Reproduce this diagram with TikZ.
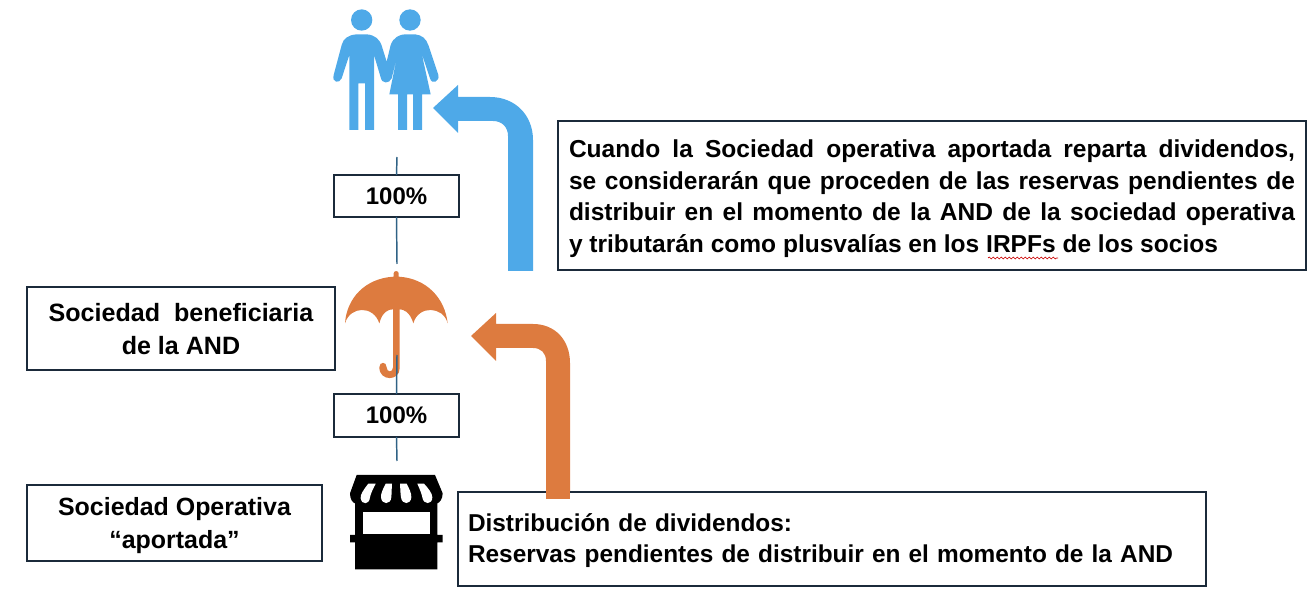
\documentclass[tikz,border=0pt]{standalone}
\usepackage{fontspec}
\setmainfont{Liberation Sans}
\usetikzlibrary{decorations.pathmorphing}
\definecolor{boxline}{HTML}{1B2A3A}
\definecolor{connline}{HTML}{2F6285}
\definecolor{bluefig}{HTML}{4EA9E8}
\definecolor{orangefig}{HTML}{DD7B3F}
\tikzset{
  x=0.75pt,y=-0.75pt,
  tbox/.style={draw=boxline,line width=1.4pt,fill=white,inner sep=0pt,outer sep=0pt,font=\fontsize{18}{24.4}\selectfont\bfseries,text=black},
  conn/.style={draw=connline,line width=1.1pt},
  bluefill/.style={fill=bluefig,draw=none},
  orangefill/.style={fill=orangefig,draw=none},
  blackfill/.style={fill=black,draw=none},
  icon/.style={x=0.25pt,y=-0.25pt},
}
\begin{document}
\begin{tikzpicture}
\useasboundingbox (0,0) rectangle (1314,605);
% people
\begin{scope}[shift={(320,0)},icon]
\fill[bluefill] (125,60) circle (32);
\fill[bluefill] (270,60) circle (32);
\fill[bluefill] (110,103) -- (140,103) .. controls (165,105) and (180,118) .. (186,140)
 -- (200,185) -- (212,135) .. controls (220,112) and (240,103) .. (255,103) -- (285,103)
 .. controls (305,105) and (318,115) .. (325,135)
 -- (355,225) .. controls (360,245) and (335,255) .. (330,235)
 -- (305,160) -- (332,283) -- (306,283) -- (306,390) -- (279,390) -- (279,283) -- (261,283) -- (261,390) -- (234,390) -- (234,283) -- (208,283)
 -- (232,165) -- (215,235) .. controls (208,252) and (185,252) .. (182,232)
 -- (162,165) -- (162,390) -- (135,390) -- (135,250) -- (115,250) -- (115,390) -- (88,390) -- (88,165)
 -- (65,235) .. controls (58,252) and (35,248) .. (41,225)
 -- (65,135) .. controls (70,115) and (85,105) .. (110,103) -- cycle;
\end{scope}
% blue arrow
\fill[bluefill] (508,271) -- (533,271) -- (533,140) .. controls (533,115) and (515,97) .. (490,97)
 -- (458,97) -- (458,85) -- (433,108) -- (458,133) -- (458,121) -- (493,121)
 .. controls (502,121) and (508,127) .. (508,136) -- cycle;
% umbrella
\begin{scope}[shift={(320,260)},icon]
\fill[orangefill] (221,50) -- (221,40) .. controls (221,31) and (236,31) .. (236,40) -- (236,50)
 .. controls (320,55) and (375,115) .. (383,190)
 .. controls (370,138) and (295,135) .. (280,190)
 .. controls (270,155) and (250,148) .. (239,148) -- (239,325)
 .. controls (239,364) and (178,365) .. (178,322)
 .. controls (178,304) and (200,304) .. (200,322)
 .. controls (200,338) and (219,338) .. (219,322) -- (219,148)
 .. controls (205,148) and (187,155) .. (178,190)
 .. controls (160,135) and (90,138) .. (75,190)
 .. controls (80,115) and (135,55) .. (221,50) -- cycle;
\end{scope}
% orange arrow
\fill[orangefill] (546,499) -- (570,499) -- (570,363) .. controls (570,340) and (555,324) .. (533,324)
 -- (496,324) -- (496,313) -- (471,336) -- (496,361) -- (496,348) -- (533,348)
 .. controls (541,348) and (546,353) .. (546,361) -- cycle;
% store
\begin{scope}[shift={(320,260)},icon]
\fill[blackfill] (110,645) -- (345,645) -- (368,700) .. controls (368,718) and (358,728) .. (352,730)
 -- (352,825) -- (368,825) -- (368,847) -- (352,847) -- (352,928) -- (105,928) -- (105,847) -- (90,847) -- (90,825) -- (105,825) -- (105,730)
 .. controls (98,728) and (90,718) .. (90,700) -- cycle;
\fill[white] (128,757) rectangle (330,823);
\fill[white] (145,671) .. controls (130,690) and (120,705) .. (122,715) .. controls (125,735) and (148,735) .. (150,712) .. controls (152,700) and (160,685) .. (167,671) -- cycle;
\fill[white] (197,671) .. controls (190,685) and (182,700) .. (183,712) .. controls (185,735) and (212,735) .. (214,712) .. controls (215,700) and (215,685) .. (216,671) -- cycle;
\fill[white] (240,671) .. controls (241,685) and (241,700) .. (243,712) .. controls (246,735) and (272,735) .. (274,712) .. controls (275,700) and (267,685) .. (260,671) -- cycle;
\fill[white] (292,671) .. controls (298,685) and (305,700) .. (307,712) .. controls (310,735) and (337,735) .. (337,712) .. controls (337,700) and (325,685) .. (312,671) -- cycle;
\end{scope}
% boxes
\node[tbox,minimum width=125*0.75pt,minimum height=42*0.75pt,anchor=north west] (pa) at (334,175) {100\%};
\node[tbox,minimum width=125*0.75pt,minimum height=43*0.75pt,anchor=north west] (pb) at (334,394) {100\%};
\node[tbox,minimum width=308*0.75pt,minimum height=83*0.75pt,anchor=north west,align=center,font=\fontsize{18.8}{24.6}\selectfont\bfseries] (ben) at (27,287) {\rule{0pt}{15pt}Sociedad\ \ beneficiaria\\de la AND};
\node[tbox,minimum width=295*0.75pt,minimum height=76*0.75pt,anchor=north west,align=center,font=\fontsize{18.7}{24.6}\selectfont\bfseries] (oper) at (27,485) {\rule{0pt}{17.5pt}Sociedad Operativa\\“aportada”};
\node[tbox,minimum width=748*0.75pt,minimum height=149*0.75pt,anchor=north west,text width=726*0.75pt,align=justify,inner xsep=10*0.75pt,font=\fontsize{18.4}{23.7}\selectfont\bfseries] (txt) at (558,121) {\rule{0pt}{18pt}Cuando la Sociedad operativa aportada reparta dividendos,\linebreak se considerarán que proceden de las reservas pendientes de\linebreak distribuir en el momento de la AND de la sociedad operativa\linebreak y tributarán como plusvalías en los IRPFs de los socios};
\node[tbox,minimum width=748*0.75pt,minimum height=94*0.75pt,anchor=north west,text width=728*0.75pt,align=left,inner xsep=10*0.75pt,font=\fontsize{18.3}{22.8}\selectfont\bfseries] (dist) at (458,492) {\rule{0pt}{16pt}Distribución de dividendos:\\Reservas pendientes de distribuir en el momento de la AND};
\fill[orangefill] (546,488) rectangle (570,499);
% connectors
\coordinate (ca) at (397,157);
\coordinate (cb) at (397,264);
\coordinate (cc) at (397,355);
\coordinate (cd) at (397,461);
\draw[conn] (ca) -- (pa.north);
\draw[conn] (pa.south) -- (cb);
\draw[conn] (cc) -- (pb.north);
\draw[conn] (pb.south) -- (cd);
% spelling mark
\coordinate (sa) at (988,258);
\coordinate (sb) at (1058,258);
\draw[red!80!black,line width=0.5pt,decorate,decoration={snake,amplitude=0.7pt,segment length=3pt}] (sa) -- (sb);
\end{tikzpicture}
\end{document}
